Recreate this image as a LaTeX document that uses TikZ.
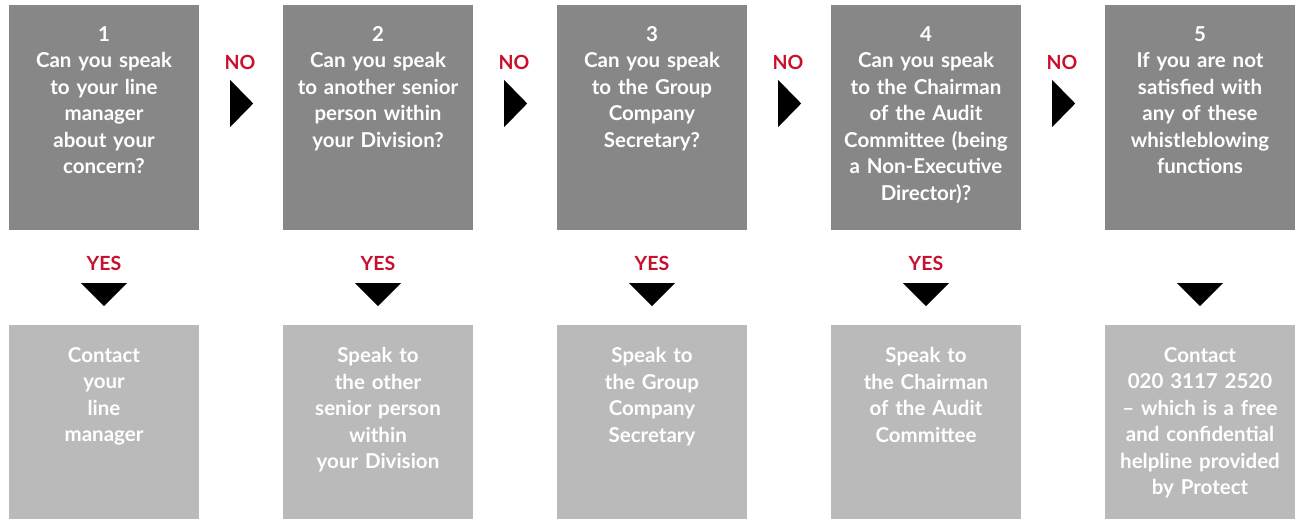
\documentclass[tikz,border=0pt]{standalone}
\usepackage{fontspec}
\setmainfont{Lato}
\usepackage{xcolor}
\usepackage{tikz}
\usetikzlibrary{positioning,calc}

\definecolor{askgrey}{HTML}{878787}
\definecolor{actgrey}{HTML}{BABABA}
\definecolor{flagred}{HTML}{C8102E}

\begin{document}
\begin{tikzpicture}[x=1pt,y=-1pt,
  ask/.style={rectangle,fill=askgrey,minimum width=190pt,minimum height=225pt,inner sep=0pt},
  act/.style={rectangle,fill=actgrey,minimum width=190pt,minimum height=194pt,inner sep=0pt},
  boxtext/.style={text=white,font=\bfseries\fontsize{20.5}{26.5}\selectfont,
    align=center,text width=188pt,inner sep=0pt,anchor=north},
  flag/.style={text=flagred,font=\bfseries\fontsize{19.5}{21}\selectfont,inner sep=0pt},
  pointer/.style={fill=black}
]
\useasboundingbox (0,0) rectangle (1295,519);
%--- question boxes ---
\node[ask] (q1) at (104,117.5) {};
\node[ask] (q2) at (378,117.5) {};
\node[ask] (q3) at (652,117.5) {};
\node[ask] (q4) at (926,117.5) {};
\node[ask] (q5) at (1200,117.5) {};
\node[boxtext,below=21.5pt of q1.north] (t1) {1\\Can you speak\\to your line\\manager\\about your\\concern?};
\node[boxtext,below=21.5pt of q2.north] (t2) {2\\Can you speak\\to another senior\\person within\\your Division?};
\node[boxtext,below=21.5pt of q3.north] (t3) {3\\Can you speak\\to the Group\\Company\\Secretary?};
\node[boxtext,below=21.5pt of q4.north] (t4) {4\\Can you speak\\to the Chairman\\of the Audit\\Committee (being\\a Non-Executive\\Director)?};
\node[boxtext,below=21.5pt of q5.north] (t5) {5\\If you are not\\satisfied with\\any of these\\whistleblowing\\functions};
%--- action boxes ---
\node[act] (a1) at (104,422) {};
\node[act] (a2) at (378,422) {};
\node[act] (a3) at (652,422) {};
\node[act] (a4) at (926,422) {};
\node[act] (a5) at (1200,422) {};
\node[boxtext,below=22.5pt of a1.north] (s1) {Contact\\your\\line\\manager};
\node[boxtext,below=22.5pt of a2.north] (s2) {Speak to\\the other\\senior person\\within\\your Division};
\node[boxtext,below=22.5pt of a3.north] (s3) {Speak to\\the Group\\Company\\Secretary};
\node[boxtext,below=22.5pt of a4.north] (s4) {Speak to\\the Chairman\\of the Audit\\Committee};
\node[boxtext,below=22.5pt of a5.north] (s5) {Contact\\020 3117 2520\\-- which is a free\\and confidential\\helpline provided\\by Protect};
%--- NO: sideways pointers ---
\foreach \i/\j in {1/2,2/3,3/4,4/5}{
  \node[flag] (no\i) at ($(q\i.east)!0.5!(q\j.west)+(-1,-55.5)$) {NO};
  \fill[pointer] ($(q\i.east)+(31,-37.5)$) -- ++(0,47) -- ++(23,-23.5) -- cycle;
}
%--- YES: downward pointers ---
\foreach \i in {1,2,3,4}{
  \node[flag] (yes\i) at ($(q\i.south)+(0,33)$) {YES};
}
\foreach \i in {1,...,5}{
  \fill[pointer] ($(q\i.south)+(-23,53)$) -- ++(46,0) -- ++(-23,23) -- cycle;
}
\end{tikzpicture}
\end{document}
